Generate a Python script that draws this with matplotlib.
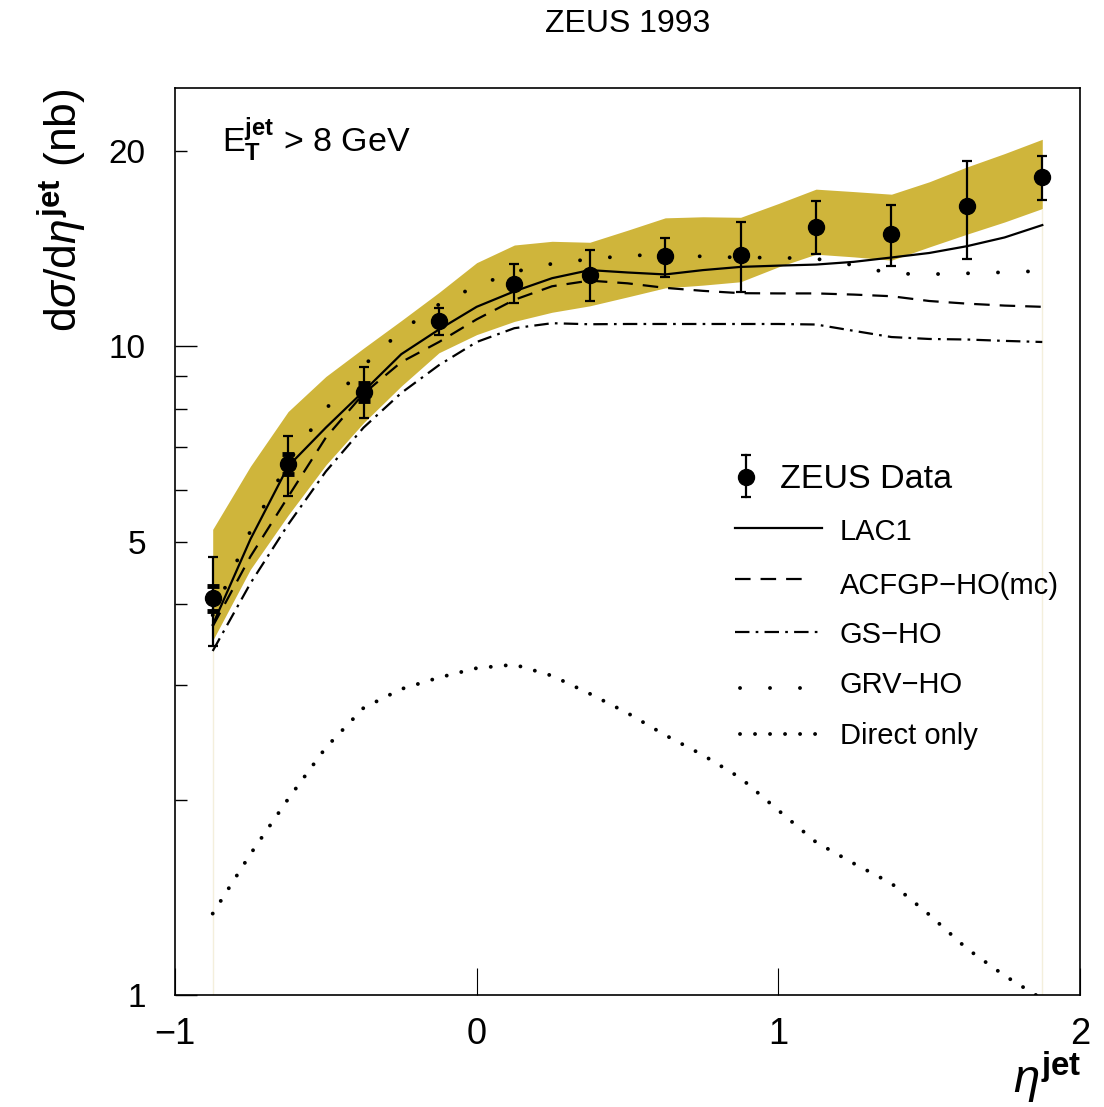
import numpy as np
import matplotlib
matplotlib.use("Agg")
import matplotlib.pyplot as plt
from matplotlib.ticker import FixedLocator, FixedFormatter

# ZEUS 1993 - inclusive jet cross section vs eta (E_T^jet > 8 GeV)

# data points
eta = np.array([-0.875, -0.625, -0.375, -0.125, 0.125, 0.375,
                0.625, 0.875, 1.125, 1.375, 1.625, 1.875])
xsec = np.array([4.09, 6.58, 8.50, 10.93, 12.46, 12.86,
                 13.76, 13.82, 15.29, 14.90, 16.45, 18.21])
tot_hi = np.array([4.73, 7.27, 9.28, 11.44, 13.38, 14.06,
                   14.69, 15.54, 16.73, 16.53, 19.28, 19.63])
tot_lo = np.array([3.45, 5.87, 7.75, 10.40, 11.65, 11.73,
                   12.79, 12.10, 13.88, 13.28, 13.63, 16.80])
# statistical errors (visible only for the first three points)
stat_hi = np.array([4.27, 6.82, 8.77])
stat_lo = np.array([3.91, 6.35, 8.23])

# theory curves and band, on a finer eta grid
eta_th = np.array([-0.875, -0.75, -0.625, -0.5, -0.375, -0.25, -0.125, 0.0,
                   0.125, 0.25, 0.375, 0.5, 0.625, 0.75, 0.875, 1.0,
                   1.125, 1.25, 1.375, 1.5, 1.625, 1.75, 1.875])
band_hi = np.array([5.22, 6.53, 7.93, 8.98, 9.93, 10.95, 12.10, 13.45,
                    14.32, 14.51, 14.46, 15.09, 15.77, 15.83, 15.80, 16.59,
                    17.46, 17.31, 17.15, 17.92, 18.89, 19.81, 20.84])
band_lo = np.array([3.52, 4.53, 5.49, 6.56, 7.62, 8.68, 9.77, 10.42,
                    10.92, 11.28, 11.54, 11.91, 12.30, 12.42, 12.57, 13.25,
                    13.86, 13.73, 13.57, 14.22, 14.88, 15.54, 16.30])
lac1 = np.array([3.72, 5.04, 6.53, 7.49, 8.52, 9.72, 10.61, 11.50,
                 12.15, 12.73, 13.10, 12.99, 12.90, 13.10, 13.25, 13.31,
                 13.36, 13.49, 13.70, 13.92, 14.26, 14.71, 15.37])
acfgp = np.array([3.70, 4.74, 5.86, 7.23, 8.45, 9.45, 10.15, 11.00,
                  11.79, 12.37, 12.62, 12.50, 12.30, 12.17, 12.07, 12.06,
                  12.06, 12.01, 11.94, 11.74, 11.63, 11.55, 11.50])
gs_ho = np.array([3.39, 4.31, 5.31, 6.41, 7.49, 8.47, 9.35, 10.15,
                  10.66, 10.85, 10.81, 10.82, 10.82, 10.82, 10.82, 10.82,
                  10.80, 10.56, 10.33, 10.26, 10.24, 10.19, 10.15])
grv_ho = np.array([3.85, 5.19, 6.63, 8.00, 9.33, 10.56, 11.60, 12.39,
                   13.02, 13.40, 13.62, 13.79, 13.84, 13.75, 13.70, 13.69,
                   13.64, 13.33, 12.94, 12.91, 12.95, 13.00, 13.06])
direct = np.array([1.335, 1.649, 2.005, 2.406, 2.77, 2.962, 3.085, 3.19,
                   3.23, 3.105, 2.913, 2.72, 2.515, 2.343, 2.16, 1.926,
                   1.72, 1.595, 1.486, 1.33, 1.179, 1.071, 0.986])

plt.rcParams['font.family'] = ['Liberation Sans', 'DejaVu Sans']
plt.rcParams['mathtext.fontset'] = 'custom'
plt.rcParams['mathtext.rm'] = 'Liberation Sans'
plt.rcParams['mathtext.it'] = 'Liberation Sans:italic'
plt.rcParams['mathtext.bf'] = 'Liberation Sans:bold'

fig = plt.figure(figsize=(11.04, 11.07), dpi=100)
ax = fig.add_axes([0.15851, 0.10117, 0.81975, 0.81933])

ax.fill_between(eta_th, band_lo, band_hi, color='#cfb53b', lw=0, zorder=1)
ax.vlines([eta_th[0], eta_th[-1]], 1, [band_lo[0], band_lo[-1]],
          color='#f4efdc', lw=1, zorder=0.5)

ax.plot(eta_th, lac1, color='k', lw=1.6, zorder=3)
ax.plot(eta_th, acfgp, color='k', lw=1.6, dashes=(7, 4.5), zorder=3)
ax.plot(eta_th, gs_ho, color='k', lw=1.6, dashes=(6.5, 2.8, 1.2, 2.8), zorder=3)
ax.plot(eta_th, grv_ho, color='k', lw=2.8, dashes=(0.01, 7.7),
        dash_capstyle='round', zorder=3)
ax.plot(eta_th, direct, color='k', lw=2.8, dashes=(0.01, 3.85),
        dash_capstyle='round', zorder=3)

ax.errorbar(eta, xsec, yerr=[xsec - tot_lo, tot_hi - xsec], fmt='o',
            color='k', ms=11.5, elinewidth=1.6, capsize=3.6, capthick=1.6,
            zorder=5)
ax.errorbar(eta[:3], xsec[:3], yerr=[xsec[:3] - stat_lo, stat_hi - xsec[:3]],
            fmt='none', ecolor='k', elinewidth=1.6, capsize=4.3, capthick=3.5,
            zorder=6)

ax.set_yscale('log')
ax.set_xlim(-1, 2)
ax.set_ylim(1, 25)

ax.yaxis.set_major_locator(FixedLocator([1, 10]))
ax.yaxis.set_major_formatter(FixedFormatter(['1', '10']))
ax.yaxis.set_minor_locator(FixedLocator([2, 3, 4, 5, 6, 7, 8, 9, 20]))
ax.yaxis.set_minor_formatter(FixedFormatter(['', '', '', '5', '', '', '', '', '20']))
ax.tick_params(axis='y', which='major', direction='in', length=16, width=1,
               labelsize=24, pad=21, right=False)
ax.tick_params(axis='y', which='minor', direction='in', length=8.6, width=1,
               labelsize=24, pad=21, right=False)

ax.set_xticks([-1, 0, 1, 2])
ax.set_xticklabels(['\u22121', '0', '1', '2'])
ax.tick_params(axis='x', which='major', direction='in', length=19.5, width=0.8,
               labelsize=26, pad=16, top=False)
for lab in ax.get_xticklabels():
    lab.set_family(['Liberation Sans Narrow', 'Liberation Sans'])

for s in ax.spines.values():
    s.set_linewidth(1.2)

# texts
fig.text(0.5688, 0.978, 'ZEUS 1993', ha='center', va='center', fontsize=23)
fig.text(0.0562, 0.9205, r'd$\sigma$/d$\eta^{\mathbf{jet}}$ (nb)', rotation=90,
         ha='center', va='top', fontsize=32)
fig.text(0.980, 0.027, r'$\eta^{\mathbf{jet}}$', ha='right', va='center', fontsize=34)
ax.text(0.0519, 0.9427, r'E$_{\mathbf{T}}^{\mathbf{jet}}$ > 8 GeV', transform=ax.transAxes,
        ha='left', va='center', fontsize=24.5)

# legend
tr = ax.transAxes
ax.plot([0.631, 0.631], [0.549, 0.595], transform=tr, color='k', lw=1.6, clip_on=False)
ax.plot([0.631, 0.631], [0.549, 0.595], transform=tr, ls='none', marker='_',
        ms=7.2, mew=1.6, color='k', clip_on=False)
ax.plot([0.631], [0.571], transform=tr, marker='o', ms=11.5, color='k', clip_on=False)
ax.text(0.6685, 0.5689, 'ZEUS Data', transform=tr, ha='left', va='center', fontsize=24.5)

ax.plot([0.6188, 0.7149], [0.5152, 0.5152], transform=tr, color='k', lw=1.6)
ax.plot([0.6188, 0.6994], [0.4587, 0.4587], transform=tr, color='k', lw=1.6,
        dashes=(7, 4.5))
ax.plot([0.6188, 0.7105], [0.4002, 0.4002], transform=tr, color='k', lw=1.6,
        dashes=(6.5, 2.8, 1.2, 2.8))
ax.plot([0.6243, 0.6917], [0.3385, 0.3385], transform=tr, color='k', lw=2.8,
        dashes=(0.01, 7.7), dash_capstyle='round')
ax.plot([0.6243, 0.7105], [0.2878, 0.2878], transform=tr, color='k', lw=2.8,
        dashes=(0.01, 3.85), dash_capstyle='round')

labels = ['LAC1', 'ACFGP\u2212HO(mc)', 'GS\u2212HO', 'GRV\u2212HO', 'Direct only']
ys = [0.511, 0.4509, 0.3969, 0.3418, 0.2856]
for lab, y in zip(labels, ys):
    ax.text(0.7348, y, lab, transform=tr, ha='left', va='center', fontsize=21)

plt.savefig('out.png', dpi=100)
